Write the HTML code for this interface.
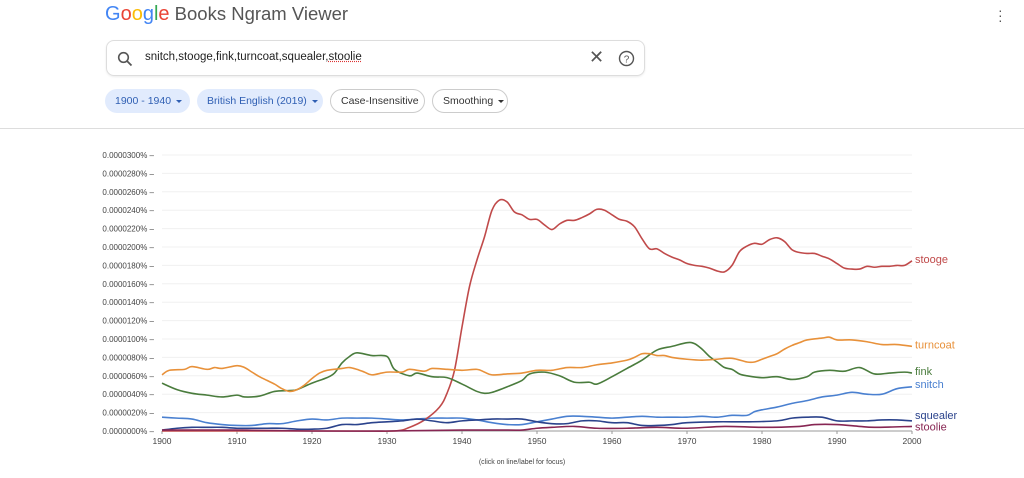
<!DOCTYPE html>
<html><head><meta charset="utf-8"><style>
body{margin:0;width:1024px;height:478px;background:#fff;font-family:"Liberation Sans",sans-serif;overflow:hidden;position:relative}
.abs{position:absolute}
.chip{position:absolute;top:89px;height:24px;border-radius:12px;font-size:10.5px;line-height:24px;box-sizing:border-box;padding:0 10px;white-space:nowrap}
.blue{background:#e1ebfd;color:#2f5fb3}
.out{border:1px solid #ccc;color:#333;line-height:22px}
.tri{display:inline-block;width:0;height:0;border-left:3px solid transparent;border-right:3px solid transparent;border-top:3px solid currentColor;margin-left:5px;vertical-align:middle}
</style></head><body>
<div class="abs" style="left:105px;top:3px;font-size:20px;white-space:nowrap"><span style="color:#4285f4">G</span><span style="color:#ea4335">o</span><span style="color:#fbbc05">o</span><span style="color:#4285f4">g</span><span style="color:#34a853">l</span><span style="color:#ea4335">e</span><span style="color:#555;font-size:18.5px"> Books Ngram Viewer</span></div>
<div class="abs" style="left:998px;top:8px;width:4px;color:#555;font-size:14px;line-height:5px">·<br>·<br>·</div>
<div class="abs" style="left:106px;top:40px;width:539px;height:36px;border:1px solid #ddd;border-radius:8px;box-sizing:border-box;box-shadow:0 1px 2px rgba(0,0,0,.08)">
 <svg class="abs" style="left:10px;top:10px" width="16" height="16"><circle cx="6.5" cy="6.5" r="4.8" fill="none" stroke="#555" stroke-width="1.6"/><line x1="10" y1="10" x2="14.5" y2="14.5" stroke="#555" stroke-width="1.8"/></svg>
 <div class="abs" style="left:38px;top:10px;font-size:11.5px;color:#222">snitch,stooge,fink,turncoat,squealer,<span style="text-decoration:underline dotted #d33">stoolie</span></div>
 <div class="abs" style="left:482px;top:6px;font-size:18px;color:#555">✕</div>
 <svg class="abs" style="left:511px;top:9px" width="17" height="17"><circle cx="8.5" cy="8.5" r="7" fill="none" stroke="#555" stroke-width="1.4"/><text x="8.5" y="12.5" font-size="10" text-anchor="middle" fill="#555" font-family="Liberation Sans">?</text></svg>
</div>
<div class="chip blue" style="left:105px;width:85px">1900 - 1940<span class="tri"></span></div>
<div class="chip blue" style="left:197px;width:126px">British English (2019)<span class="tri"></span></div>
<div class="chip out" style="left:330px;width:95px">Case-Insensitive</div>
<div class="chip out" style="left:432px;width:76px">Smoothing<span class="tri"></span></div>
<div class="abs" style="left:0;top:128px;width:1024px;height:1px;background:#ddd"></div>
<svg class="abs" id="chart" style="left:0;top:0" width="1024" height="478"></svg>
<script>
const tickVals=[0,20,40,60,80,100,120,140,160,180,200,220,240,260,280,300];
const tickLabels=["0.0000000%","0.0000020%","0.0000040%","0.0000060%","0.0000080%","0.0000100%","0.0000120%","0.0000140%","0.0000160%","0.0000180%","0.0000200%","0.0000220%","0.0000240%","0.0000260%","0.0000280%","0.0000300%"];
const xTicks=[1900,1910,1920,1930,1940,1950,1960,1970,1980,1990,2000];
const stoogeYears=[1900,1925,1931,1933,1935,1937,1938,1939,1940,1941,1942,1943,1944,1945,1946,1947,1948,1949,1950,1951,1952,1953,1954,1955,1956,1957,1958,1959,1960,1961,1962,1963,1964,1965,1966,1967,1968,1969,1970,1971,1972,1973,1974,1975,1976,1977,1978,1979,1980,1981,1982,1983,1984,1985,1986,1987,1988,1989,1990,1991,1992,1993,1994,1995,1996,1997,1998,1999,2000];
const stoogeVals=[0,0,0,4,12,26,41,66,113,157,186,211,240,251,249,238,235,230,230,224,219,225,229,229,232,236,241,240,235,230,228,222,209,198,198,193,189,186,182,180,179,177,174,173,180,195,201,204,203,208,210,206,197,194,193,193,190,187,182,177,176,176,179,178,179,179,180,180,185];
const turncoatYears=[1900,1901,1903,1904,1906,1907,1908,1910,1911,1912,1913,1914,1915,1916,1917,1918,1919,1920,1921,1922,1924,1925,1926,1927,1928,1930,1932,1933,1935,1936,1938,1940,1942,1943,1944,1946,1948,1950,1952,1954,1956,1958,1960,1962,1963,1964,1965,1966,1967,1968,1970,1972,1974,1976,1978,1979,1980,1981,1982,1983,1984,1985,1986,1988,1989,1990,1992,1994,1996,1998,2000];
const turncoatVals=[61,66,67,70,67,69,68,71,69,64,59,55,51,46,43,45,50,57,63,66,68,69,67,64,61,64,64,67,65,68,67,66,67,64,61,62,63,66,66,69,69,72,74,77,80,84,84,82,82,80,78,77,78,79,75,75,78,81,84,89,93,96,99,101,102,99,99,97,94,94,92];
const finkYears=[1900,1902,1904,1906,1908,1910,1911,1913,1915,1917,1918,1920,1922,1923,1924,1925,1926,1928,1930,1931,1933,1934,1936,1938,1940,1942,1943,1944,1946,1948,1949,1951,1953,1955,1957,1958,1960,1962,1964,1966,1968,1970,1971,1972,1973,1974,1975,1976,1977,1978,1980,1982,1984,1986,1987,1989,1991,1993,1995,1997,1999,2000];
const finkVals=[52,45,41,39,37,39,37,38,43,44,45,52,58,63,74,81,85,82,81,67,60,63,59,58,51,43,41,42,48,55,62,64,60,53,53,51,59,68,77,88,92,96,95,89,81,75,69,67,62,60,58,59,56,59,64,66,65,69,62,63,64,63];
const snitchYears=[1900,1902,1904,1906,1908,1910,1912,1914,1916,1918,1920,1922,1924,1926,1928,1930,1932,1934,1936,1938,1940,1942,1944,1946,1948,1950,1952,1954,1956,1958,1960,1962,1964,1966,1968,1970,1972,1974,1976,1978,1979,1980,1982,1984,1986,1988,1990,1992,1994,1996,1998,2000];
const snitchVals=[15,14,13,9,7,6,6,8,8,11,13,12,14,14,14,13,12,13,14,14,14,12,9,7,7,10,13,16,16,15,14,15,16,15,15,15,16,15,17,17,21,23,26,30,33,37,39,42,40,40,46,48];
const squealerYears=[1900,1902,1904,1906,1908,1910,1912,1914,1916,1918,1920,1922,1924,1926,1928,1930,1932,1934,1936,1938,1940,1942,1944,1946,1948,1950,1952,1954,1956,1958,1960,1962,1964,1966,1968,1970,1974,1978,1982,1984,1986,1988,1990,1992,1994,1996,1998,2000];
const squealerVals=[1,3,4,4,4,3,3,3,3,2,2,3,7,7,9,10,11,13,11,9,11,12,13,13,13,10,8,8,11,11,9,9,6,6,7,9,10,10,11,14,15,15,11,11,11,12,12,11];
const stoolieYears=[1900,1910,1920,1930,1940,1946,1948,1950,1952,1955,1958,1962,1966,1970,1975,1980,1985,1987,1990,1993,1995,2000];
const stoolieVals=[1,1,0,0,1,1,1,3,4,5,3,3,4,3,5,4,5,7,7,5,4,5];
const seriesNames=["snitch","stooge","fink","turncoat","squealer","stoolie"];
const seriesColors=["#4a80d0","#c04a4a","#4a7c3d","#e8913a","#2b438c","#872653"];
const seriesData=[[snitchYears,snitchVals],[stoogeYears,stoogeVals],[finkYears,finkVals],[turncoatYears,turncoatVals],[squealerYears,squealerVals],[stoolieYears,stoolieVals]];
const X0=162,X1=912,Y0=431,Y1=155;
const xs=y=>X0+(y-1900)/100*(X1-X0);
const ys=v=>Y0-v/300*(Y0-Y1);
const svg=document.getElementById('chart');
const NS='http://www.w3.org/2000/svg';
function mk(t,a){const e=document.createElementNS(NS,t);for(const k in a)e.setAttribute(k,a[k]);svg.appendChild(e);return e;}
tickVals.forEach((v,i)=>{
 const g=mk('line',{x1:X0,x2:X1,y1:ys(v),y2:ys(v),stroke:i?'#f0f0f0':'#999','stroke-width':1});
 
 
 const t=mk('text',{x:154,y:ys(v)+3,'font-size':8,'text-anchor':'end',fill:'#444','font-family':'Liberation Sans'});
 t.textContent=tickLabels[i]+' –';
 
 
});
xTicks.forEach(yr=>{
 const t=mk('text',{x:xs(yr),y:444,'font-size':8.5,'text-anchor':'middle',fill:'#444','font-family':'Liberation Sans'});
 t.textContent=yr;
 
 
 const l=mk('line',{x1:xs(yr),x2:xs(yr),y1:Y0,y2:Y0+3,stroke:'#999'});
 
 
});
function path(px){let d='M'+px[0][0]+','+px[0][1];for(let i=0;i<px.length-1;i++){const p0=px[i-1]||px[i],p1=px[i],p2=px[i+1],p3=px[i+2]||p2;d+=' C'+(p1[0]+(p2[0]-p0[0])/6)+','+(p1[1]+(p2[1]-p0[1])/6)+' '+(p2[0]-(p3[0]-p1[0])/6)+','+(p2[1]-(p3[1]-p1[1])/6)+' '+p2[0]+','+p2[1];}return d;}
const labelOff={snitch:-3,stooge:-2,fink:-2,turncoat:-2,squealer:-6,stoolie:0};
seriesData.forEach((s,i)=>{
 const px=s[0].map((yr,j)=>[xs(yr),ys(s[1][j])]);
 const p=mk('path',{d:path(px),fill:'none',stroke:seriesColors[i],'stroke-width':1.6});
 
 
 const last=px[px.length-1];
 const t=mk('text',{x:X1+3,y:last[1]+4+labelOff[seriesNames[i]],'font-size':11,fill:seriesColors[i],'font-family':'Liberation Sans'});
 t.textContent=seriesNames[i];
 
 
});
const f=mk('text',{x:522,y:464,'font-size':7,'text-anchor':'middle',fill:'#444','font-family':'Liberation Sans'});
f.textContent='(click on line/label for focus)';


</script>
</body></html>
